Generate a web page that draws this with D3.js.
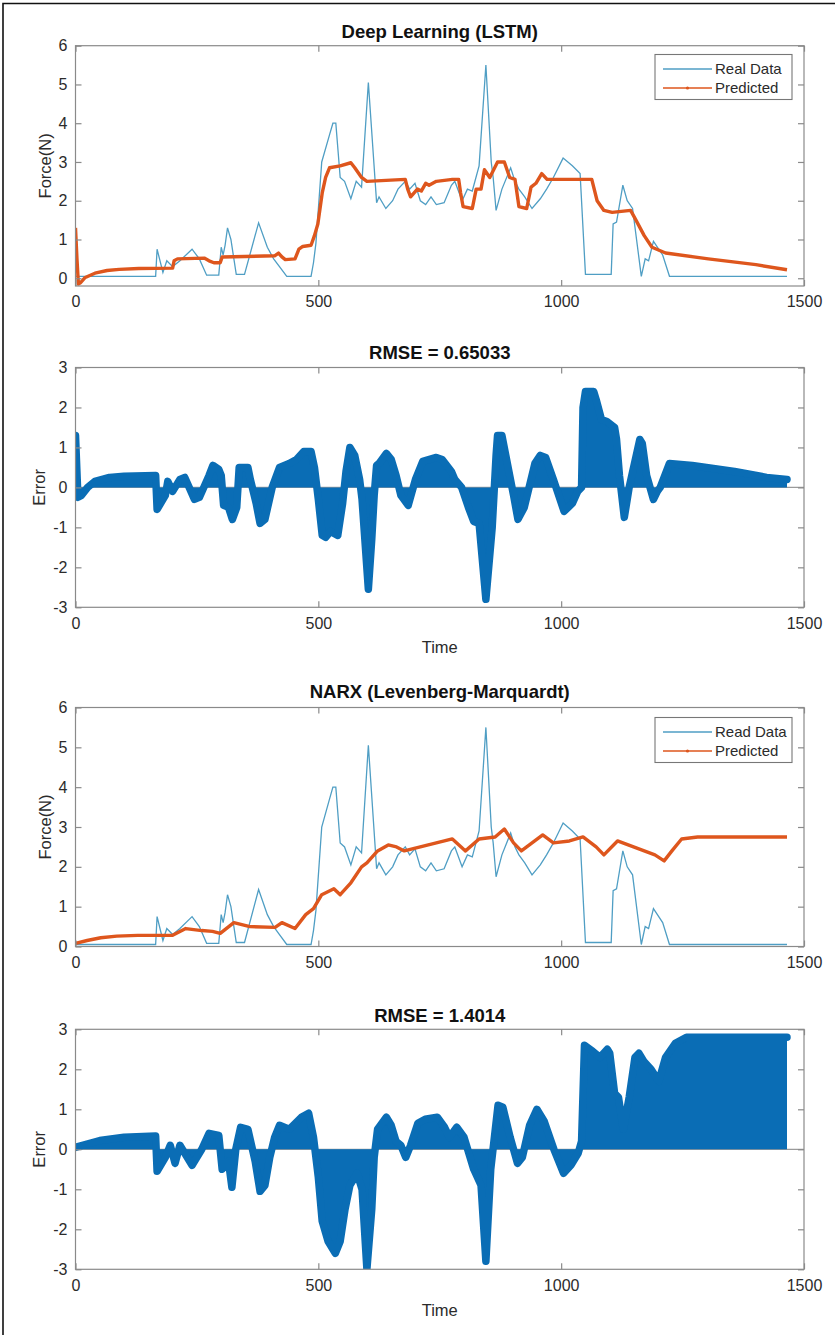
<!DOCTYPE html>
<html>
<head>
<meta charset="utf-8">
<script src="https://cdn.jsdelivr.net/npm/d3@7"></script>
<style>
  body { margin: 0; background: #fff; }
  svg { display: block; font-family: "Liberation Sans", Arial, Helvetica, sans-serif; }
</style>
</head>
<body>
<div class="visHolder"></div>
<script>
const w = 835, h = 1335;

const timeTicks = [0, 500, 1000, 1500];
const forceTicks = [0, 1, 2, 3, 4, 5, 6];
const errorTicks = [-3, -2, -1, 0, 1, 2, 3];

// measured force signal, [time, force]
const realData = [
  [0,0.05],[165,0.05],[168,0.75],[180,0.15],[188,0.45],[200,0.3],[215,0.45],[240,0.75],[255,0.5],
  [270,0.08],[295,0.08],[300,0.8],[304,0.6],[308,0.85],[313,1.3],[320,1.0],[331,0.1],[348,0.1],
  [377,1.43],[395,0.8],[408,0.5],[420,0.3],[435,0.05],[485,0.05],[490,0.4],[495,0.9],[507,3.0],
  [523,3.7],[530,4.0],[536,4.0],[545,2.6],[554,2.5],[567,2.05],[578,2.5],[589,2.35],[603,5.05],
  [620,1.95],[625,2.1],[639,1.8],[653,2.0],[664,2.3],[679,2.5],[688,2.3],[699,2.45],[710,2.0],
  [721,1.9],[732,2.1],[743,1.9],[759,1.95],[774,2.4],[781,2.5],[796,2.0],[807,2.3],[817,2.25],
  [831,2.9],[845,5.5],[856,3.0],[860,2.6],[866,1.75],[878,2.3],[896,2.85],[905,2.5],[913,2.3],
  [925,2.1],[940,1.8],[957,2.05],[970,2.3],[984,2.6],[1004,3.1],[1023,2.9],[1039,2.7],[1050,0.1],
  [1103,0.1],[1107,1.4],[1114,1.45],[1127,2.4],[1136,2.0],[1147,1.8],[1165,0.05],[1173,0.5],
  [1180,0.45],[1190,0.95],[1209,0.6],[1223,0.05],[1465,0.05]
];

// LSTM prediction
const lstmPred = [
  [0,1.3],[3,0.5],[6,-0.15],[10,-0.12],[20,0.02],[40,0.13],[65,0.2],[90,0.23],[130,0.25],[200,0.26],
  [203,0.45],[210,0.5],[265,0.52],[275,0.45],[285,0.4],[298,0.4],[302,0.55],[410,0.58],[418,0.65],
  [425,0.55],[432,0.48],[452,0.5],[460,0.75],[468,0.82],[485,0.85],[492,1.1],[499,1.4],[508,2.2],
  [515,2.6],[523,2.85],[545,2.9],[567,2.98],[575,2.85],[589,2.6],[600,2.5],[679,2.55],[684,2.3],
  [690,2.1],[704,2.3],[712,2.25],[721,2.45],[728,2.4],[743,2.5],[776,2.55],[789,2.55],[793,2.2],
  [798,1.85],[817,1.8],[825,2.3],[835,2.3],[842,2.8],[853,2.6],[869,3.0],[883,3.0],[894,2.6],
  [905,2.55],[913,1.85],[929,1.8],[938,2.35],[948,2.45],[960,2.7],[971,2.55],[1063,2.55],[1074,2.0],
  [1088,1.75],[1105,1.7],[1143,1.75],[1154,1.5],[1171,1.1],[1187,0.8],[1215,0.65],[1303,0.5],
  [1401,0.35],[1465,0.22]
];

// LSTM error
const lstmErr = [
  [0,1.3],[5,-0.25],[12,-0.2],[25,0.0],[40,0.15],[70,0.25],[100,0.28],[165,0.3],[168,-0.55],
  [185,-0.2],[190,0.15],[200,-0.1],[215,0.2],[225,0.25],[245,-0.3],[255,-0.25],[275,0.3],[283,0.55],
  [295,0.45],[300,0.3],[305,-0.45],[315,-0.5],[323,-0.8],[332,-0.5],[337,0.5],[355,0.5],[360,0.2],
  [372,-0.4],[380,-0.9],[390,-0.8],[405,0.0],[420,0.5],[440,0.6],[455,0.7],[470,0.9],[485,0.9],
  [492,0.5],[500,-0.3],[508,-1.2],[515,-1.25],[525,-1.1],[540,-1.2],[550,-0.4],[557,0.4],[565,1.0],
  [575,0.8],[585,0.2],[590,-0.3],[603,-2.55],[610,-1.3],[615,-0.2],[620,0.55],[625,0.6],[640,0.85],
  [650,0.7],[660,0.3],[670,-0.2],[685,-0.45],[700,0.2],[715,0.65],[743,0.75],[755,0.7],[774,0.4],
  [781,0.2],[795,0.0],[809,-0.5],[820,-0.85],[831,-0.9],[845,-2.8],[858,-1.0],[866,0.8],[869,1.3],
  [878,1.3],[886,0.8],[894,0.3],[902,-0.2],[911,-0.8],[924,-0.5],[946,0.6],[957,0.8],[968,0.75],
  [984,0.2],[1006,-0.6],[1023,-0.4],[1034,-0.1],[1042,0.0],[1045,2.0],[1050,2.4],[1067,2.4],
  [1072,2.2],[1083,1.7],[1094,1.65],[1110,1.5],[1114,1.2],[1120,0.3],[1130,-0.75],[1140,0.0],
  [1162,1.2],[1167,1.1],[1176,0.3],[1190,-0.3],[1198,-0.1],[1204,0.0],[1223,0.6],[1270,0.55],
  [1357,0.4],[1423,0.25],[1465,0.2]
];

// NARX prediction
const narxPred = [
  [0,0.08],[24,0.15],[52,0.22],[85,0.26],[128,0.28],[200,0.28],[227,0.45],[260,0.4],[282,0.38],
  [298,0.33],[326,0.6],[359,0.5],[411,0.48],[425,0.6],[452,0.45],[474,0.8],[490,0.95],[507,1.3],
  [532,1.45],[545,1.3],[567,1.6],[589,2.0],[600,2.1],[622,2.4],[644,2.55],[661,2.5],[677,2.4],
  [710,2.5],[743,2.6],[776,2.7],[803,2.4],[831,2.7],[864,2.75],[883,2.95],[902,2.6],[918,2.4],
  [951,2.7],[962,2.8],[984,2.6],[1017,2.65],[1045,2.75],[1072,2.5],[1088,2.3],[1116,2.65],
  [1138,2.55],[1171,2.4],[1193,2.3],[1212,2.15],[1228,2.4],[1248,2.7],[1281,2.75],[1465,2.75]
];

// NARX error
const narxErr = [
  [0,0.05],[20,0.12],[50,0.22],[100,0.3],[165,0.33],[168,-0.55],[185,-0.2],[195,0.1],[205,-0.35],
  [215,0.1],[240,-0.4],[260,0.0],[275,0.4],[295,0.35],[302,-0.5],[315,-0.3],[322,-0.95],[330,0.0],
  [340,0.55],[355,0.5],[370,-0.3],[380,-1.05],[390,-0.9],[400,-0.2],[410,0.3],[420,0.6],[440,0.5],
  [465,0.8],[480,0.9],[490,0.3],[500,-0.7],[508,-1.8],[520,-2.3],[535,-2.6],[545,-2.3],[555,-1.5],
  [565,-0.9],[580,-0.6],[590,-1.0],[600,-3.0],[610,-1.5],[615,-0.2],[622,0.5],[640,0.8],[650,0.6],
  [660,0.2],[670,0.1],[680,-0.2],[690,0.1],[705,0.65],[720,0.75],[745,0.8],[760,0.55],[770,0.3],
  [785,0.55],[800,0.3],[820,-0.5],[835,-0.9],[845,-2.8],[855,-0.5],[870,1.1],[880,1.05],[895,0.3],
  [910,-0.35],[920,-0.2],[935,0.6],[950,1.0],[965,0.7],[985,0.0],[1005,-0.6],[1020,-0.4],
  [1035,-0.1],[1042,0.2],[1048,2.6],[1065,2.45],[1080,2.3],[1095,2.5],[1100,2.4],[1110,1.4],
  [1118,1.3],[1128,0.5],[1140,1.3],[1152,2.3],[1160,2.4],[1170,2.2],[1185,2.0],[1201,1.7],
  [1215,2.3],[1235,2.65],[1258,2.8],[1465,2.8]
];

const titles = ['Deep Learning (LSTM)', 'RMSE = 0.65033', 'NARX (Levenberg-Marquardt)', 'RMSE = 1.4014'];
const legendLabels = [['Real Data', 'Predicted'], ['Read Data', 'Predicted']];

const realColor = '#4f9ec4';
const predColor = '#de561d';
const errColor = '#0a6db5';
const boxColor = '#8a8a8a';
const textColor = '#2b2b2b';

const svg = d3.select('.visHolder')
  .append('svg')
  .attr('width', w)
  .attr('height', h);

svg.append('rect').attr('width', w).attr('height', h).attr('fill', '#fff');

// outer frame of the figure
svg.append('path')
  .attr('d', `M3,${h} V3.5 H${w}`)
  .attr('fill', 'none')
  .attr('stroke', '#111')
  .attr('stroke-width', 1.6);

const xScale = d3.scaleLinear().domain([0, 1500]).range([75.5, 804]);
// plain hyphen minus like matlab, not the unicode minus d3 uses
const fmt = d => String(d);

const panels = [
  {top: 45.7, bottom: 286, domain: [-0.2, 6], ticks: forceTicks, ylabel: 'Force(N)', ylabelX: 51, title: titles[0], titleY: 38, kind: 'force', pred: lstmPred, legend: legendLabels[0], legendTop: 54.5},
  {top: 367.5, bottom: 607.3, domain: [-3, 3], ticks: errorTicks, ylabel: 'Error', ylabelX: 45, title: titles[1], titleY: 359, kind: 'error', err: lstmErr, xlabelY: 653},
  {top: 707.5, bottom: 946.5, domain: [0, 6], ticks: forceTicks, ylabel: 'Force(N)', ylabelX: 51, title: titles[2], titleY: 698, kind: 'force', pred: narxPred, legend: legendLabels[1], legendTop: 717.5},
  {top: 1029.3, bottom: 1269.3, domain: [-3, 3], ticks: errorTicks, ylabel: 'Error', ylabelX: 45, title: titles[3], titleY: 1022, kind: 'error', err: narxErr, xlabelY: 1316}
];

const [x0, x1] = xScale.range();

panels.forEach((p, i) => {
  const yScale = d3.scaleLinear().domain(p.domain).range([p.bottom, p.top]);
  const g = svg.append('g').attr('class', `panel-${i}`);
  const clipId = `clip-${i}`;
  svg.append('clipPath').attr('id', clipId)
    .append('rect').attr('x', x0).attr('y', p.top).attr('width', x1 - x0).attr('height', p.bottom - p.top);

  const plot = g.append('g').attr('clip-path', `url(#${clipId})`);
  const line = d3.line().x(d => xScale(d[0])).y(d => yScale(d[1]));

  if (p.kind === 'force') {
    plot.append('path')
      .datum(realData)
      .attr('d', line)
      .attr('fill', 'none')
      .attr('stroke', realColor)
      .attr('stroke-width', 1.3);
    plot.append('path')
      .datum(p.pred)
      .attr('d', line)
      .attr('fill', 'none')
      .attr('stroke', predColor)
      .attr('stroke-width', 3.4)
      .attr('stroke-linejoin', 'round');
  } else {
    // stem baseline
    plot.append('line')
      .attr('x1', x0).attr('x2', x1)
      .attr('y1', yScale(0)).attr('y2', yScale(0))
      .attr('stroke', '#9a9a9a').attr('stroke-width', 1.2);
    const area = d3.area().x(d => xScale(d[0])).y0(yScale(0)).y1(d => yScale(d[1]));
    plot.append('path')
      .datum(p.err)
      .attr('d', area)
      .attr('fill', errColor);
    // circle markers along the stem tips form a thick band
    plot.append('path')
      .datum(p.err)
      .attr('d', line)
      .attr('fill', 'none')
      .attr('stroke', errColor)
      .attr('stroke-width', 7.5)
      .attr('stroke-linejoin', 'round')
      .attr('stroke-linecap', 'round');
  }

  // box
  g.append('rect')
    .attr('x', x0).attr('y', p.top)
    .attr('width', x1 - x0).attr('height', p.bottom - p.top)
    .attr('fill', 'none')
    .attr('stroke', boxColor)
    .attr('stroke-width', 1.2);

  // inward ticks on all four sides
  const yAxisL = d3.axisLeft(yScale).tickValues(p.ticks).tickFormat(fmt).tickSizeInner(-6).tickSizeOuter(0).tickPadding(8);
  const yAxisR = d3.axisRight(yScale).tickValues(p.ticks).tickSizeInner(-6).tickSizeOuter(0).tickFormat('');
  const xAxisB = d3.axisBottom(xScale).tickValues(timeTicks).tickFormat(fmt).tickSizeInner(-6).tickSizeOuter(0).tickPadding(10);
  const xAxisT = d3.axisTop(xScale).tickValues(timeTicks).tickSizeInner(-6).tickSizeOuter(0).tickFormat('');

  const axes = [
    g.append('g').attr('transform', `translate(${x0},0)`).call(yAxisL),
    g.append('g').attr('transform', `translate(${x1},0)`).call(yAxisR),
    g.append('g').attr('transform', `translate(0,${p.bottom})`).call(xAxisB),
    g.append('g').attr('transform', `translate(0,${p.top})`).call(xAxisT)
  ];
  axes.forEach(a => {
    a.select('.domain').remove();
    a.selectAll('line').attr('stroke', boxColor).attr('stroke-width', 1.2);
    a.selectAll('text')
      .attr('fill', textColor)
      .style('font-size', '16px')
      .style('font-family', '"Liberation Sans", Arial, sans-serif');
  });

  // title
  g.append('text')
    .attr('x', (x0 + x1) / 2)
    .attr('y', p.titleY)
    .attr('text-anchor', 'middle')
    .attr('fill', '#111')
    .style('font-size', '18.5px')
    .style('font-weight', 'bold')
    .text(p.title);

  // y label
  g.append('text')
    .attr('transform', `translate(${p.ylabelX},${(p.top + p.bottom) / 2}) rotate(-90)`)
    .attr('text-anchor', 'middle')
    .attr('fill', textColor)
    .style('font-size', '16.5px')
    .text(p.ylabel);

  if (p.xlabelY) {
    g.append('text')
      .attr('x', (x0 + x1) / 2)
      .attr('y', p.xlabelY)
      .attr('text-anchor', 'middle')
      .attr('fill', textColor)
      .style('font-size', '16.5px')
      .text('Time');
  }

  if (p.legend) {
    const lg = g.append('g').attr('transform', `translate(655,${p.legendTop})`);
    lg.append('rect')
      .attr('width', 137).attr('height', 45)
      .attr('fill', '#fff')
      .attr('stroke', '#777')
      .attr('stroke-width', 1.1);
    const items = [{label: p.legend[0], color: realColor, dot: false},
                   {label: p.legend[1], color: predColor, dot: true}];
    items.forEach((it, k) => {
      const cy = 14.5 + k * 19;
      lg.append('line')
        .attr('x1', 8).attr('x2', 57)
        .attr('y1', cy).attr('y2', cy)
        .attr('stroke', it.color)
        .attr('stroke-width', 1.3);
      if (it.dot) {
        lg.append('circle').attr('cx', 32.5).attr('cy', cy).attr('r', 1.6).attr('fill', it.color);
      }
      lg.append('text')
        .attr('x', 60).attr('y', cy + 5.3)
        .attr('fill', textColor)
        .style('font-size', '15px')
        .text(it.label);
    });
  }
});
</script>
</body>
</html>
